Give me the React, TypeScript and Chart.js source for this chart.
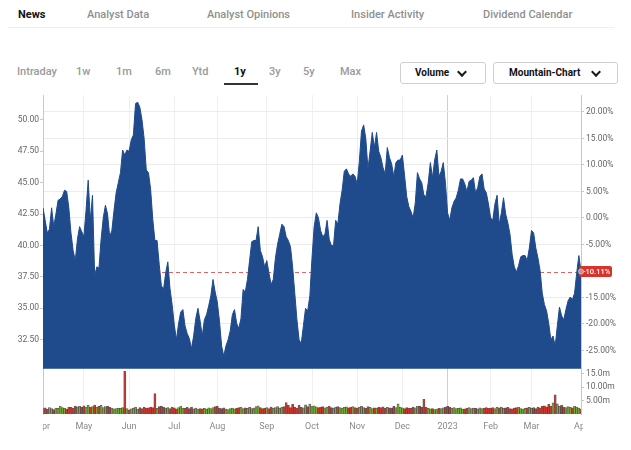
import React, { useEffect, useRef } from 'react';
import { Chart, registerables } from 'chart.js';

Chart.register(...registerables);

// ---- Data: trading-day closing prices, one array per month (Apr 2022 – Apr 2023)
const priceApr22 = [43.0, 42.0, 41.0, 41.3, 43.0, 41.5, 42.5, 43.6, 43.7, 43.9, 44.4, 44.3, 43.0, 41.0, 39.6, 38.8, 40.5, 41.5, 41.1];
const priceMay22 = [40.7, 42.8, 45.2, 42.0, 44.0, 37.6, 38.3, 38.2, 40.5, 42.2, 43.2, 42.5, 40.7, 41.2, 42.8, 44.2, 45.0, 45.8, 47.6, 47.2, 47.6];
const priceJun22 = [47.5, 48.4, 48.8, 51.3, 51.4, 51.0, 50.0, 48.5, 46.0, 45.8, 44.5, 42.1, 40.4, 40.4, 38.5, 36.8, 36.5, 37.8, 38.7, 36.6, 35.3];
const priceJul22 = [33.7, 32.5, 33.8, 34.7, 34.9, 33.6, 33.0, 32.6, 31.8, 32.8, 34.2, 35.0, 34.0, 32.8, 34.1, 34.5, 35.2, 36.0, 37.3, 36.3];
const priceAug22 = [35.5, 34.0, 32.0, 31.2, 32.0, 32.5, 33.2, 34.5, 34.9, 33.8, 33.4, 34.2, 36.5, 36.3, 37.3, 38.8, 40.3, 40.4, 40.4, 41.5, 39.6, 39.1, 38.3];
const priceSep22 = [38.8, 37.8, 36.9, 37.3, 39.0, 40.1, 40.9, 41.7, 41.5, 40.7, 40.4, 39.9, 38.3, 36.2, 34.1, 32.5, 32.2, 33.6, 35.0, 34.8, 36.0];
const priceOct22 = [39.0, 41.5, 42.6, 42.2, 41.2, 40.7, 40.9, 42.0, 40.5, 40.0, 40.0, 42.0, 41.7, 43.3, 44.4, 45.9, 46.1, 45.7, 45.5, 45.7, 45.5];
const priceNov22 = [44.9, 46.7, 49.1, 49.6, 48.5, 46.1, 47.5, 49.0, 47.8, 49.0, 47.5, 47.0, 46.2, 45.7, 47.8, 47.0, 46.5, 45.5, 46.6, 46.8, 46.8];
const priceDec22 = [47.2, 45.6, 43.9, 43.1, 42.7, 42.2, 43.4, 45.8, 45.3, 45.0, 44.0, 43.9, 45.0, 46.6, 45.4, 46.8, 47.6, 45.5, 45.9, 46.6, 45.0];
const priceJan23 = [42.6, 42.0, 43.0, 43.5, 43.8, 44.4, 45.3, 45.3, 44.9, 44.3, 45.1, 45.2, 45.4, 44.2, 44.6, 45.5, 45.7, 44.5, 44.2, 43.3];
const priceFeb23 = [42.2, 42.0, 43.3, 44.0, 41.7, 42.6, 43.8, 42.5, 41.8, 40.9, 39.3, 38.3, 37.9, 38.4, 39.1, 39.2, 39.2, 38.8, 39.8];
const priceMar23 = [41.2, 41.0, 39.8, 39.0, 38.0, 36.2, 35.3, 34.8, 33.8, 32.5, 32.8, 32.0, 33.6, 35.1, 34.4, 34.1, 34.9, 35.6, 35.9, 35.7, 36.2, 37.8, 39.2];
const priceApr23 = [37.93];

// ---- Daily volume (millions), one array per month
const volApr22 = [2.0, 2.3, 1.8, 2.4, 2.0, 1.7, 2.2, 2.1, 3.0, 2.4, 2.1, 1.8, 2.6, 2.5, 2.2, 3.0, 2.7, 2.9, 2.5];
const volMay22 = [3.1, 2.6, 3.2, 2.5, 2.8, 3.3, 2.6, 2.9, 3.2, 2.4, 2.8, 3.0, 2.5, 2.2, 1.9, 2.0, 2.2, 2.1, 2.4, 16.0, 2.0];
const volJun22 = [1.6, 1.9, 2.2, 2.6, 1.8, 2.4, 2.0, 2.5, 2.2, 2.3, 2.6, 2.4, 7.6, 2.1, 2.8, 3.0, 2.6, 2.2, 2.4, 2.0, 2.6];
const volJul22 = [2.3, 1.9, 2.4, 3.0, 2.2, 2.1, 2.5, 2.0, 2.6, 1.9, 2.2, 1.8, 2.0, 1.9, 2.1, 1.8, 2.3, 2.0, 2.4, 2.8];
const volAug22 = [3.0, 2.2, 2.0, 2.3, 1.8, 1.7, 2.0, 2.2, 1.9, 2.1, 2.4, 2.6, 2.0, 2.3, 2.1, 2.5, 2.0, 2.2, 2.8, 3.1, 2.4, 2.0, 2.2];
const volSep22 = [2.4, 2.0, 2.6, 2.2, 2.4, 2.8, 2.2, 2.5, 2.8, 4.3, 3.2, 2.4, 3.6, 2.6, 2.2, 3.2, 2.5, 2.3, 3.4, 2.8, 3.7];
const volOct22 = [2.9, 3.1, 2.7, 2.4, 2.6, 2.8, 2.3, 2.6, 2.9, 2.4, 2.2, 2.6, 2.8, 2.4, 2.2, 2.5, 2.7, 2.3, 2.5, 2.8, 2.4];
const volNov22 = [2.2, 2.6, 2.9, 2.4, 2.1, 2.8, 2.5, 2.0, 2.3, 2.2, 2.6, 2.4, 2.7, 2.1, 2.5, 2.3, 2.2, 2.9, 2.4, 3.8, 2.6];
const volDec22 = [2.3, 2.0, 2.4, 2.2, 2.1, 2.6, 2.3, 2.9, 3.0, 2.6, 5.5, 2.5, 2.1, 1.9, 2.0, 1.7, 1.8, 2.1, 2.0, 2.3, 2.6];
const volJan23 = [2.9, 2.6, 2.2, 2.4, 2.0, 2.1, 2.3, 1.8, 1.9, 2.1, 2.4, 2.0, 2.2, 2.1, 1.9, 2.3, 2.0, 2.2, 2.4, 2.1];
const volFeb23 = [2.2, 2.4, 2.0, 2.5, 2.3, 2.6, 2.1, 2.3, 2.5, 2.0, 1.9, 2.2, 2.4, 2.6, 2.0, 1.8, 2.1, 2.3, 2.5];
const volMar23 = [2.1, 2.4, 2.0, 2.6, 2.3, 2.9, 3.1, 2.7, 3.6, 3.0, 4.2, 7.2, 3.8, 2.9, 3.2, 2.6, 2.4, 2.8, 2.5, 2.3, 2.9, 2.6, 2.2];
const volApr23 = [1.8];

const monthLabels = ['Apr', 'May', 'Jun', 'Jul', 'Aug', 'Sep', 'Oct', 'Nov', 'Dec', '2023', 'Feb', 'Mar', 'Apr'];
const leftTicks = [32.5, 35, 37.5, 40, 42.5, 45, 47.5, 50];
const pctTicks = [20, 15, 10, 5, 0, -5, -15, -20, -25];
const volTicks = [5, 10, 15];
const volTickLabels = ['5.00m', '10.00m', '15.0m'];

const BASE_PRICE = 42.196; // reference price for % axis
const FILL_FLOOR = 30.2;
const PRICE_MIN = 26.59;
const PRICE_MAX = 51.97;
const VOL_MAX = 119.3;

const priceMonths = [priceApr22, priceMay22, priceJun22, priceJul22, priceAug22, priceSep22, priceOct22, priceNov22, priceDec22, priceJan23, priceFeb23, priceMar23, priceApr23];
const volMonths = [volApr22, volMay22, volJun22, volJul22, volAug22, volSep22, volOct22, volNov22, volDec22, volJan23, volFeb23, volMar23, volApr23];

const prices: number[] = priceMonths.flat();
const volumes: number[] = volMonths.flat();
const monthStarts: number[] = [];
{
  let acc = 0;
  priceMonths.forEach((m) => { monthStarts.push(acc); acc += m.length; });
}
const LAST = prices[prices.length - 1];

const BLUE = '#1f4a8c';
const FONT = 'Roboto, "Open Sans", sans-serif';

const overlayPlugin = {
  id: 'overlay',
  beforeDatasetsDraw(chart: any) {
    const { ctx, chartArea } = chart;
    const y = Math.round(chart.scales.y.getPixelForValue(LAST)) + 0.5;
    ctx.save();
    ctx.strokeStyle = '#e06262';
    ctx.lineWidth = 1;
    ctx.setLineDash([4, 3]);
    ctx.beginPath();
    ctx.moveTo(chartArea.left, y);
    ctx.lineTo(chartArea.right, y);
    ctx.stroke();
    ctx.restore();
  },
  afterDraw(chart: any) {
    const { ctx, chartArea, width, height } = chart;
    ctx.save();
    // clip month labels to the plot width
    ctx.fillStyle = '#fff';
    ctx.fillRect(0, chartArea.bottom + 2, chartArea.left, height - chartArea.bottom - 2);
    ctx.fillRect(chartArea.right + 2, chartArea.bottom + 2, width - chartArea.right - 2, height - chartArea.bottom - 2);
    // last-value badge
    const y = chart.scales.y.getPixelForValue(LAST);
    const pct = (LAST / BASE_PRICE - 1) * 100;
    const txt = pct.toFixed(2) + '%';
    const bx = chartArea.right - 2;
    const bw = 33;
    const bh = 11;
    ctx.fillStyle = '#d8342c';
    ctx.beginPath();
    (ctx as any).roundRect(bx, y - bh / 2, bw, bh, 2);
    ctx.fill();
    ctx.fillStyle = '#fff';
    ctx.font = `500 7.5px ${FONT}`;
    ctx.textBaseline = 'middle';
    ctx.textAlign = 'left';
    ctx.fillText(txt, bx + 4, y + 0.5);
    ctx.beginPath();
    ctx.arc(chartArea.right, y, 2.5, 0, Math.PI * 2);
    ctx.fillStyle = '#a0a0a0';
    ctx.fill();
    ctx.lineWidth = 1;
    ctx.strokeStyle = '#f0b0b0';
    ctx.stroke();
    ctx.restore();
  },
};

function ChartCanvas() {
  const ref = useRef<HTMLCanvasElement | null>(null);
  useEffect(() => {
    if (!ref.current) return;
    Chart.defaults.font.family = FONT;
    const pricePts = prices.map((p, i) => ({ x: i, y: p }));
    const volPts = volumes.map((v, i) => ({ x: i, y: v }));
    const volColors = volumes.map((_, i) => (i > 0 && prices[i] < prices[i - 1] ? '#c8372d' : '#6fac36'));
    const chart = new Chart(ref.current, {
      type: 'line',
      data: {
        datasets: [
          {
            type: 'line',
            data: pricePts,
            xAxisID: 'x',
            yAxisID: 'y',
            borderColor: BLUE,
            backgroundColor: BLUE,
            borderWidth: 1,
            pointRadius: 0,
            tension: 0,
            fill: { value: FILL_FLOOR },
          } as any,
          {
            type: 'bar',
            data: volPts,
            xAxisID: 'x',
            yAxisID: 'yv',
            backgroundColor: volColors,
            borderColor: 'rgba(55,30,30,0.75)',
            borderWidth: 0.7,
            categoryPercentage: 1,
            barPercentage: 1,
          } as any,
        ],
      },
      options: {
        animation: false,
        responsive: false,
        devicePixelRatio: 1,
        layout: { padding: { top: 4, left: 0, right: 0, bottom: 0 } },
        plugins: { legend: { display: false }, tooltip: { enabled: false } },
        scales: {
          x: {
            type: 'linear',
            min: 0,
            max: prices.length - 1,
            offset: false,
            afterBuildTicks: (s: any) => { s.ticks = monthStarts.map((v) => ({ value: v })); },
            afterFit: (s: any) => { s.height = 36; },
            ticks: {
              autoSkip: false,
              maxRotation: 0,
              padding: 7,
              color: '#8a8a8a',
              font: { size: 9 },
              callback: (_v: any, i: number) => monthLabels[i],
            },
            grid: {
              offset: false,
              drawTicks: false,
              color: (c: any) => (c.index === 9 ? '#cfcfcf' : '#efefef'),
            },
            border: { display: false },
          },
          y: {
            type: 'linear',
            position: 'left',
            min: PRICE_MIN,
            max: PRICE_MAX,
            afterBuildTicks: (s: any) => { s.ticks = leftTicks.map((v) => ({ value: v })); },
            afterFit: (s: any) => { s.width = 43; },
            ticks: {
              padding: 1,
              color: '#666',
              font: { size: 8.5 },
              callback: (v: any) => Number(v).toFixed(2),
            },
            grid: { drawOnChartArea: false, tickLength: 3, color: '#c8c8c8' },
            border: { display: true, color: '#c8c8c8' },
          },
          yr: {
            type: 'linear',
            position: 'right',
            min: PRICE_MIN,
            max: PRICE_MAX,
            afterBuildTicks: (s: any) => {
              const t: any[] = [];
              pctTicks.forEach((p) => t.push({ value: BASE_PRICE * (1 + p / 100), txt: p.toFixed(2) + '%', kind: 'pct' }));
              volTicks.forEach((v, i) => t.push({ value: PRICE_MIN + (v / VOL_MAX) * (PRICE_MAX - PRICE_MIN), txt: volTickLabels[i], kind: 'vol' }));
              t.sort((a, b) => a.value - b.value);
              s.ticks = t;
            },
            afterFit: (s: any) => { s.width = 50; },
            ticks: {
              padding: 2,
              color: '#666',
              font: { size: 8.5 },
              callback: (_v: any, i: number, ticks: any[]) => ticks[i].txt,
            },
            grid: {
              tickLength: 3,
              tickColor: '#c8c8c8',
              color: (c: any) => (c.tick && c.tick.kind === 'pct' ? '#ececec' : 'rgba(0,0,0,0)'),
            },
            border: { display: true, color: '#c8c8c8' },
          },
          yv: {
            type: 'linear',
            display: false,
            min: 0,
            max: VOL_MAX,
          },
        },
      } as any,
      plugins: [overlayPlugin],
    });
    return () => chart.destroy();
  }, []);
  return (
    <canvas
      ref={ref}
      width={631}
      height={362}
      style={{ position: 'absolute', left: 0, top: 88, width: 631, height: 362 }}
    />
  );
}

const navItems = [
  { label: 'News', x: 18, active: true },
  { label: 'Analyst Data', x: 87 },
  { label: 'Analyst Opinions', x: 207 },
  { label: 'Insider Activity', x: 351 },
  { label: 'Dividend Calendar', x: 483 },
];
const rangeItems = [
  { label: 'Intraday', x: 17 },
  { label: '1w', x: 76 },
  { label: '1m', x: 116 },
  { label: '6m', x: 155 },
  { label: 'Ytd', x: 192 },
  { label: '1y', x: 234, active: true },
  { label: '3y', x: 269 },
  { label: '5y', x: 303 },
  { label: 'Max', x: 340 },
];

function Txt({ x, y, children, style }: any) {
  return (
    <span
      style={{
        position: 'absolute',
        left: x,
        top: y,
        transform: 'translateY(-50%)',
        lineHeight: 1,
        whiteSpace: 'nowrap',
        ...style,
      }}
    >
      {children}
    </span>
  );
}

function Chevron({ x, y }: any) {
  return (
    <span
      style={{
        position: 'absolute',
        left: x,
        top: y,
        width: 5,
        height: 5,
        borderRight: '2px solid #1a1a1a',
        borderBottom: '2px solid #1a1a1a',
        transform: 'translate(-50%, -50%) rotate(45deg)',
      }}
    />
  );
}

export default function App() {
  return (
    <div
      style={{
        position: 'fixed',
        left: 0,
        top: 0,
        width: 631,
        height: 450,
        background: '#fff',
        fontFamily: FONT,
        overflow: 'hidden',
      }}
    >
      {navItems.map((n) => (
        <Txt
          key={n.label}
          x={n.x}
          y={13.5}
          style={{ fontSize: 11, fontWeight: n.active ? 700 : 500, color: n.active ? '#111' : '#8f8f8f' }}
        >
          {n.label}
        </Txt>
      ))}
      <div style={{ position: 'absolute', left: 8, top: 27, width: 606, height: 1, background: '#eeeeee' }} />
      {rangeItems.map((n) => (
        <Txt
          key={n.label}
          x={n.x}
          y={70.5}
          style={{ fontSize: 11, fontWeight: n.active ? 700 : 500, color: n.active ? '#111' : '#9a9a9a' }}
        >
          {n.label}
        </Txt>
      ))}
      <div style={{ position: 'absolute', left: 224, top: 83, width: 34, height: 2, background: '#333' }} />
      <div
        style={{
          position: 'absolute', left: 400, top: 62, width: 86, height: 22,
          border: '1px solid #cfcfcf', borderRadius: 3, boxSizing: 'border-box',
        }}
      />
      <Txt x={415} y={73} style={{ fontSize: 10, fontWeight: 700, color: '#111' }}>Volume</Txt>
      <Chevron x={462} y={71.5} />
      <div
        style={{
          position: 'absolute', left: 493, top: 62, width: 125, height: 22,
          border: '1px solid #cfcfcf', borderRadius: 3, boxSizing: 'border-box',
        }}
      />
      <Txt x={509} y={73} style={{ fontSize: 10, fontWeight: 700, color: '#111' }}>Mountain-Chart</Txt>
      <Chevron x={596} y={71.5} />
      <ChartCanvas />
    </div>
  );
}
